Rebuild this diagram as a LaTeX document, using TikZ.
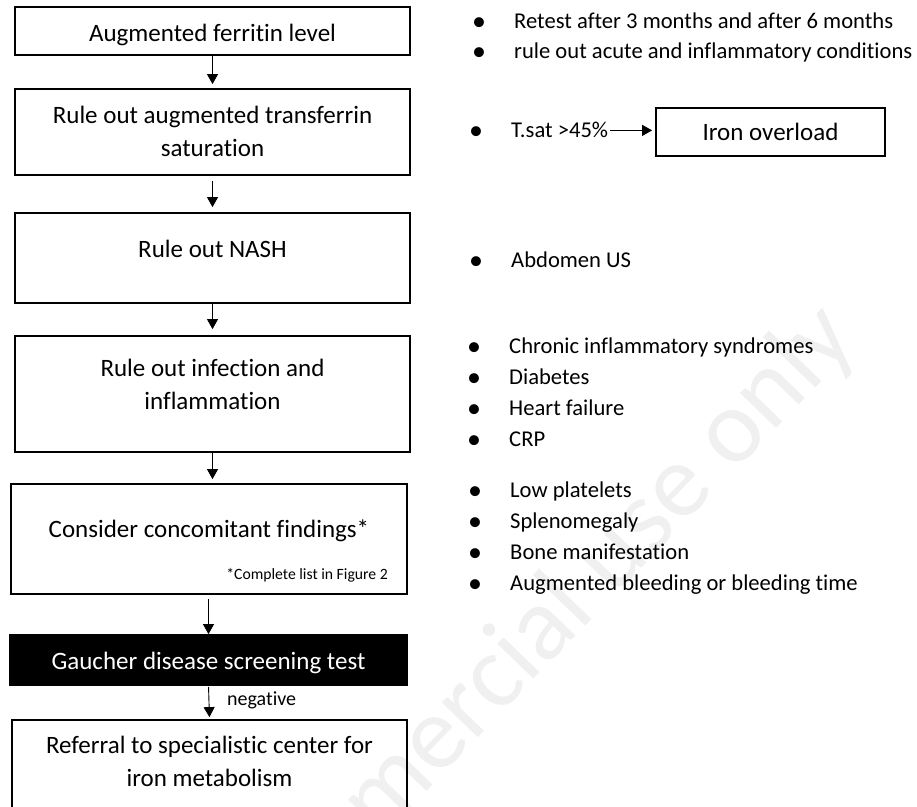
\documentclass[tikz,border=0pt]{standalone}
\usepackage{fontspec}
\setmainfont{Carlito}[Ligatures=NoCommon]
\usetikzlibrary{arrows.meta}

\newcommand{\bul}{\makebox[42pt][l]{\raisebox{-2.2pt}{\fontsize{28}{28}\selectfont\textbullet}}}

\begin{document}
\begin{tikzpicture}[x=1pt,y=-1pt,
    box/.style={draw,line width=1.8pt,inner sep=0pt,minimum width=395pt},
    boxtext/.style={anchor=base,inner sep=0pt,font=\fontsize{25}{33}\selectfont},
    listtext/.style={anchor=base west,inner sep=0pt,font=\fontsize{22.6}{31}\selectfont},
    arr/.style={-{Triangle[length=10pt,width=11pt]},line width=0.9pt}]
    \useasboundingbox (0,0) rectangle (917,806);

    % watermark
    \node[text=black!6,inner sep=0pt,rotate=46,anchor=base east,font=\fontsize{105}{105}\selectfont] (wm) at (860,342) {Non-commercial use only};

    % left column
    \node[box,minimum height=48pt] (ferritin) at (212.5,31) {};
    \node[boxtext] (ferritin-t) at (212.5,41) {Augmented ferritin level};
    \node[box,minimum height=86pt] (tsat) at (212.5,132) {};
    \node[boxtext] (tsat-t) at (212.5,123) {\begin{tabular}[t]{@{}c@{}}Rule out augmented transferrin\\ saturation\end{tabular}};
    \node[box,minimum height=90pt] (nash) at (212.5,258) {};
    \node[boxtext] (nash-t) at (212.5,257) {Rule out NASH};
    \node[box,minimum height=116pt] (inflam) at (212.5,394) {};
    \node[boxtext] (inflam-t) at (212.5,376) {\begin{tabular}[t]{@{}c@{}}Rule out infection and\\ inflammation\end{tabular}};
    \node[box,minimum width=396pt,minimum height=110pt] (consider) at (209,539) {};
    \node[boxtext] (consider-t) at (209,537) {Consider concomitant findings*};
    \node[anchor=base east,inner sep=0pt,font=\fontsize{15.7}{18}\selectfont] (footnote) at (388,579) {*Complete list in Figure 2};
    \node[box,minimum width=397pt,minimum height=50pt,fill=black] (gaucher) at (208.5,660) {};
    \node[boxtext,text=white] (gaucher-t) at (208.5,669) {Gaucher disease screening test};
    \node[box,minimum height=110pt] (referral) at (209.5,775) {};
    \node[boxtext] (referral-t) at (209.5,753) {\begin{tabular}[t]{@{}c@{}}Referral to specialistic center for\\ iron metabolism\end{tabular}};

    \draw[arr,shorten >=4pt] (ferritin) -- (tsat);
    \draw[arr,shorten <=5pt,shorten >=5pt] (tsat) -- (nash);
    \draw[arr,shorten >=6pt] (nash) -- (inflam);
    \draw[arr,shorten >=4pt] (inflam.south) -- (inflam.south |- consider.north);
    \draw[arr,shorten <=4pt] (gaucher.north |- consider.south) -- (gaucher.north);
    \draw[arr,shorten <=1pt,shorten >=2pt] (gaucher.south) -- (referral.north);
    \node[anchor=base west,inner sep=0pt,font=\fontsize{20}{24}\selectfont] (neg) at (227,705) {negative};

    % right column
    \node[listtext,font=\fontsize{22.6}{30}\selectfont] (retest) at (472,28) {\begin{tabular}[t]{@{}l@{}}\bul Retest after 3 months and after 6 months\\ \bul rule out acute and inflammatory conditions\end{tabular}};
    \node[listtext] (tsatval) at (469,137) {\bul T.sat >45\%};
    \node[box,minimum width=229pt,minimum height=48pt,font=\fontsize{25}{30}\selectfont] (overload) at (770.5,132) {Iron overload};
    \draw[arr,shorten <=2pt,shorten >=3pt] (tsatval.east) -- (overload.west |- tsatval.east);
    \node[listtext] (us) at (469,267) {\bul Abdomen US};
    \node[listtext] (causes) at (467,353) {\begin{tabular}[t]{@{}l@{}}\bul Chronic inflammatory syndromes\\ \bul Diabetes\\ \bul Heart failure\\ \bul CRP\end{tabular}};
    \node[listtext] (findings) at (468,497) {\begin{tabular}[t]{@{}l@{}}\bul Low platelets\\ \bul Splenomegaly\\ \bul Bone manifestation\\ \bul Augmented bleeding or bleeding time\end{tabular}};
\end{tikzpicture}
\end{document}
